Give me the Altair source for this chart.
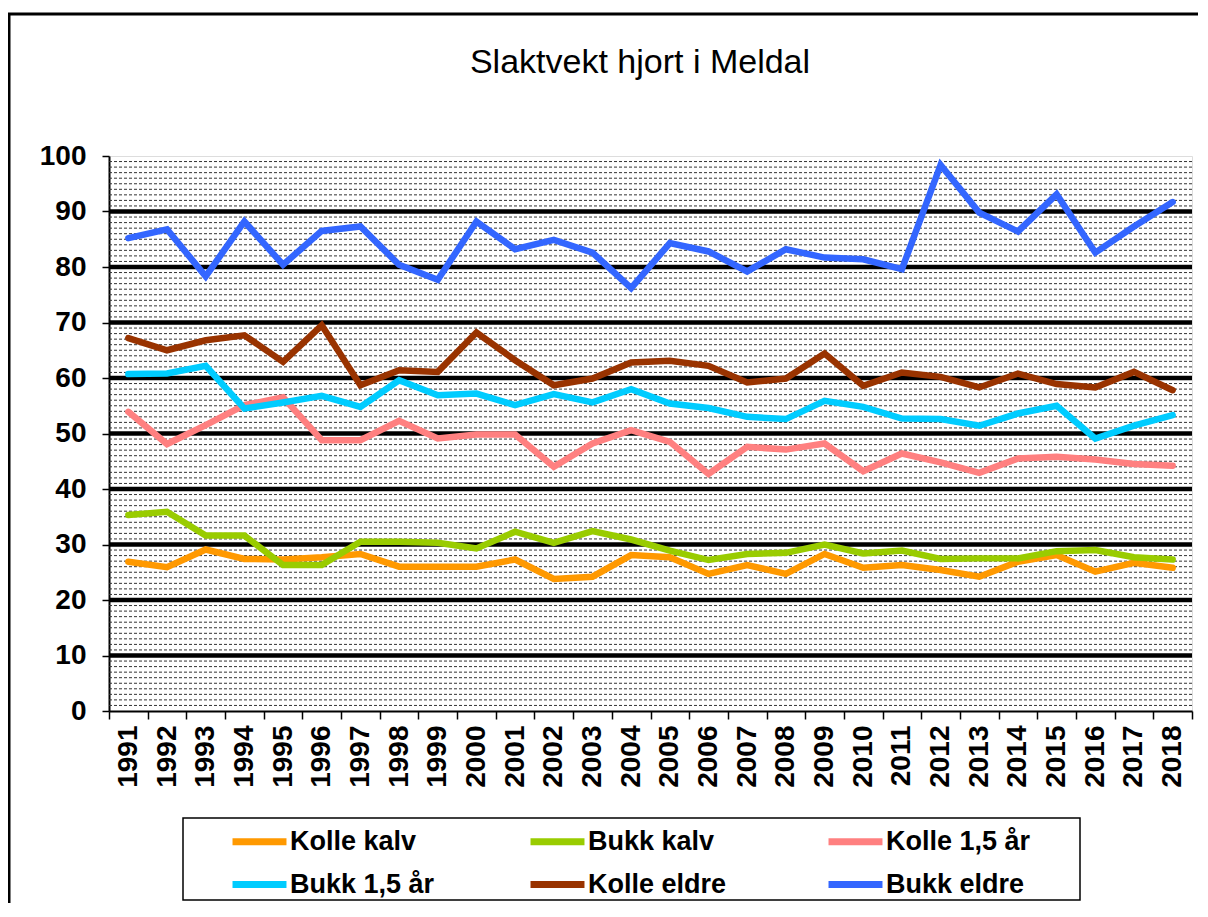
import altair as alt
import pandas as pd

years = list(range(1991, 2019))
series_names = ["Kolle kalv", "Bukk kalv", "Kolle 1,5 år", "Bukk 1,5 år", "Kolle eldre", "Bukk eldre"]
series_colors = ["#FF9900", "#99CC00", "#FF8080", "#00CCFF", "#993300", "#3366FF"]

kolle_kalv = [26.9, 25.9, 29.1, 27.4, 27.3, 27.7, 28.3, 26.0, 26.0, 26.0, 27.3, 23.8, 24.2, 28.1,
              27.7, 24.7, 26.3, 24.7, 28.3, 25.8, 26.3, 25.4, 24.2, 26.9, 28.1, 25.1, 26.7, 25.8]
bukk_kalv = [35.3, 35.9, 31.6, 31.6, 26.3, 26.3, 30.5, 30.5, 30.3, 29.3, 32.3, 30.3, 32.4, 30.9,
             28.9, 27.2, 28.3, 28.5, 30.0, 28.4, 28.9, 27.4, 27.5, 27.5, 28.8, 29.0, 27.7, 27.3]
kolle_15 = [53.9, 48.1, 51.5, 55.1, 56.5, 48.8, 48.8, 52.3, 49.1, 49.8, 49.8, 44.0, 48.2, 50.6,
            48.5, 42.7, 47.6, 47.1, 48.2, 43.2, 46.4, 44.8, 42.9, 45.5, 45.8, 45.3, 44.5, 44.2]
bukk_15 = [60.7, 60.8, 62.2, 54.5, 55.6, 56.8, 54.8, 59.6, 56.9, 57.2, 55.1, 57.1, 55.6, 58.0,
           55.4, 54.6, 53.0, 52.6, 55.9, 54.8, 52.7, 52.6, 51.4, 53.6, 55.0, 49.1, 51.4, 53.3]
kolle_eldre = [67.2, 65.0, 66.8, 67.7, 62.9, 69.5, 58.7, 61.4, 61.1, 68.2, 63.2, 58.7, 59.9, 62.8,
               63.1, 62.2, 59.2, 59.9, 64.4, 58.6, 61.0, 60.2, 58.3, 60.8, 58.9, 58.3, 61.1, 57.8]
bukk_eldre = [85.2, 86.8, 78.3, 88.2, 80.4, 86.5, 87.3, 80.4, 77.7, 88.2, 83.2, 84.9, 82.6, 76.2,
              84.3, 82.8, 79.2, 83.2, 81.7, 81.4, 79.6, 98.4, 89.8, 86.4, 93.1, 82.6, 87.3, 91.7]

major_ticks = [0, 10, 20, 30, 40, 50, 60, 70, 80, 90, 100]
minor_grid = [v for v in range(1, 100) if v % 10 != 0]
major_grid = [10, 20, 30, 40, 50, 60, 70, 80, 90]
title_text = "Slaktvekt hjort i Meldal"

all_values = [kolle_kalv, bukk_kalv, kolle_15, bukk_15, kolle_eldre, bukk_eldre]
rows = []
for name, vals in zip(series_names, all_values):
    for y, v in zip(years, vals):
        rows.append({"year": y, "series": name, "value": v})
df = pd.DataFrame(rows)

FONT = "Liberation Sans"
W, H = 1083, 555

yscale = alt.Scale(domain=[0, 100], nice=False, zero=True)

minor = alt.Chart(pd.DataFrame({"v": minor_grid})).mark_rule(
    color="#333333", strokeWidth=1, strokeDash=[3, 2]
).encode(y=alt.Y("v:Q", scale=yscale))

major = alt.Chart(pd.DataFrame({"v": major_grid})).mark_rule(
    color="black", strokeWidth=4.5
).encode(y=alt.Y("v:Q", scale=yscale))

lines = alt.Chart(df).mark_line(strokeWidth=6.5, strokeJoin="miter", strokeCap="round").encode(
    x=alt.X("year:O", bandPosition=0.5,
            scale=alt.Scale(type="band", paddingInner=0, paddingOuter=0),
            axis=alt.Axis(title=None, tickBand="extent", labelAngle=-90, labelFont=FONT,
                          labelFontSize=28, labelFontWeight="bold", labelColor="black",
                          tickColor="black", tickSize=8, tickWidth=1.5, domainColor="black",
                          domainWidth=2, labelPadding=6, grid=False)),
    y=alt.Y("value:Q", scale=yscale,
            axis=alt.Axis(title=None, values=major_ticks, labelFont=FONT, labelFontSize=28,
                          labelFontWeight="bold", labelColor="black", tickColor="black",
                          tickSize=7, tickWidth=1.5, domainColor="black", domainWidth=2,
                          labelPadding=16, grid=False)),
    color=alt.Color("series:N", sort=series_names,
                    scale=alt.Scale(domain=series_names, range=series_colors),
                    legend=alt.Legend(title=None, orient="none", legendX=136, legendY=671,
                                      direction="horizontal", columns=3, gridAlign="all",
                                      columnPadding=81, rowPadding=14,
                                      symbolType="M-2.5,0H2.5", symbolSize=466,
                                      symbolStrokeWidth=7, labelFont=FONT,
                                      labelFontSize=27, labelFontWeight="bold",
                                      labelColor="black", labelOffset=16, padding=0)),
    detail="series:N",
)

one = pd.DataFrame({"a": [0]})
legend_box = alt.Chart(one).mark_rect(fill="transparent", stroke="black", strokeWidth=1.5).encode(
    x=alt.value(74), x2=alt.value(971), y=alt.value(662), y2=alt.value(744)
)
outer_left = alt.Chart(one).mark_rule(color="black", strokeWidth=3).encode(
    x=alt.value(-100), y=alt.value(-142), y2=alt.value(900)
)
outer_top = alt.Chart(one).mark_rule(color="black", strokeWidth=3).encode(
    x=alt.value(-101.5), x2=alt.value(1300), y=alt.value(-142)
)
title = alt.Chart(one).mark_text(font=FONT, fontSize=34, fontWeight="normal", color="black",
                                 align="center", baseline="middle").encode(
    x=alt.value(531), y=alt.value(-93), text=alt.value(title_text)
)

chart = alt.layer(minor, major, lines, legend_box, outer_left, outer_top, title).properties(
    width=W, height=H,
    autosize=alt.AutoSizeParams(type="none"),
    padding={"left": 101, "top": 148, "right": 6, "bottom": 192},
).configure_view(stroke="#808080", strokeWidth=3).configure(background="white")

chart.save("out.html", embed_options={"renderer": "svg", "actions": False})
